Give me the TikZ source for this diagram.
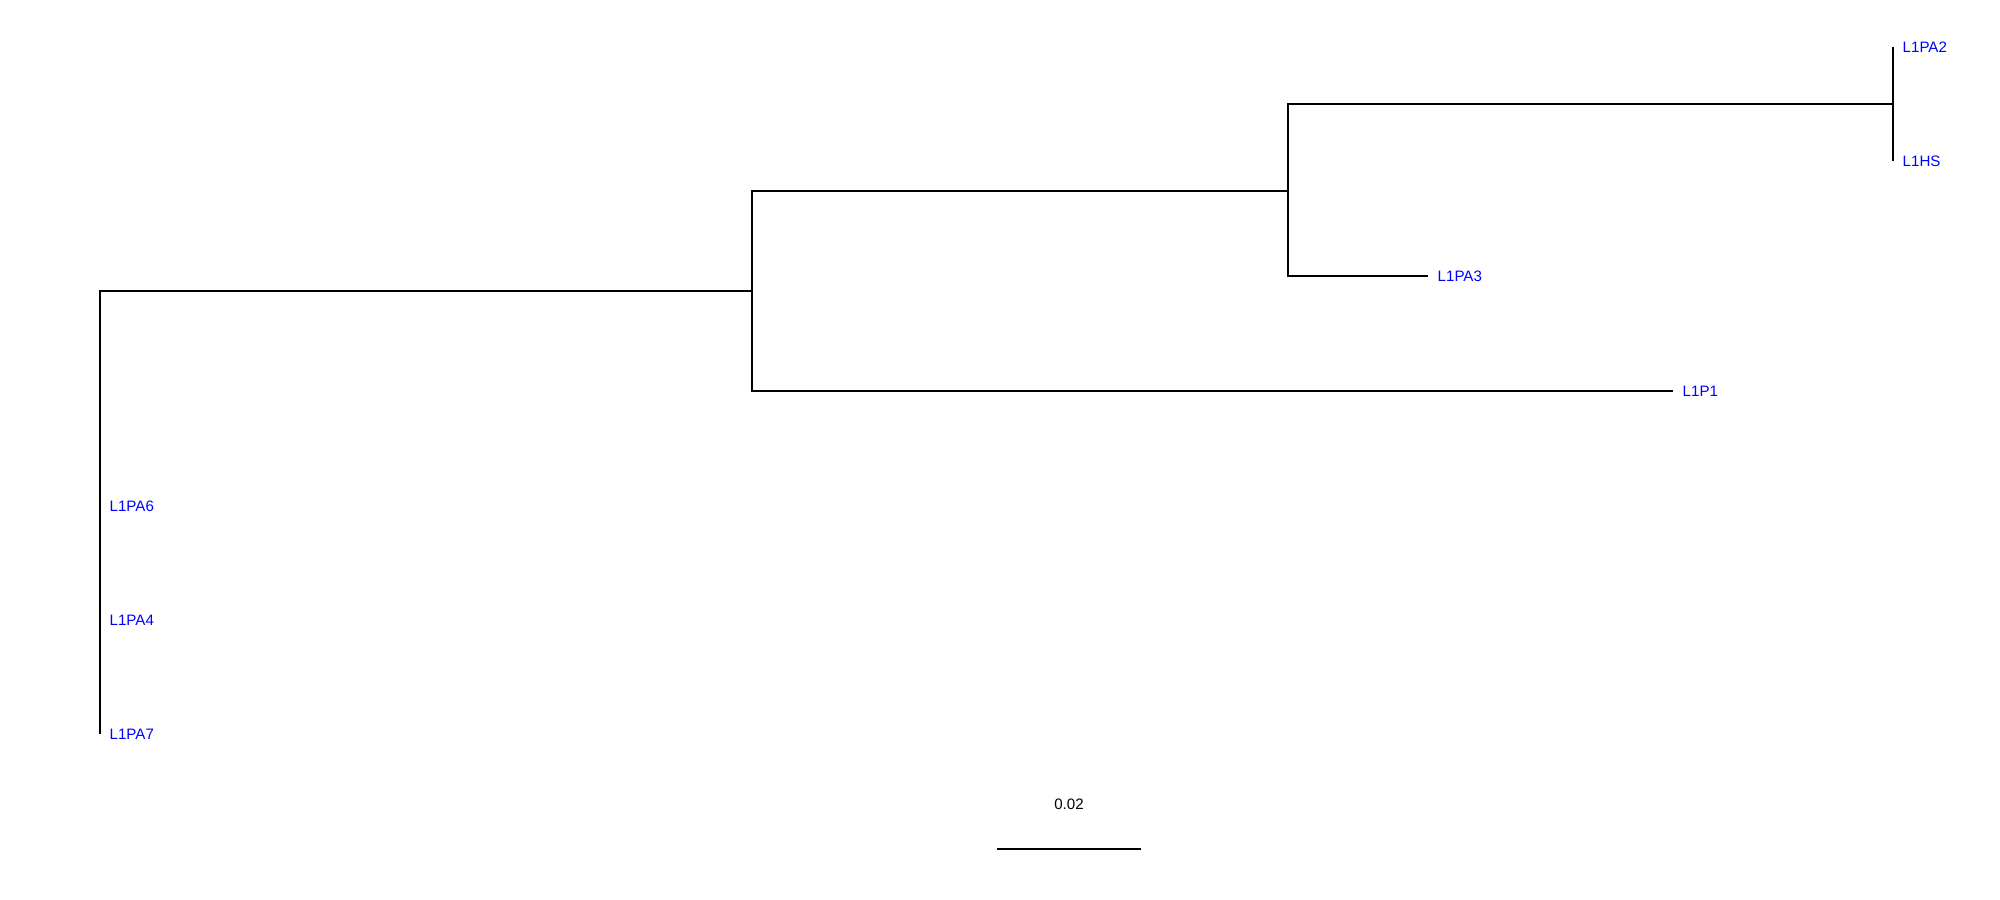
\documentclass[tikz,border=0pt]{standalone}
\usepackage{fontspec}
\setmainfont{Liberation Sans}
\begin{document}
\begin{tikzpicture}[x=0.01cm, y=-0.01cm, line width=0.38pt,
    tip/.style={anchor=west, inner sep=0pt, text=blue, font=\fontsize{4.3}{5}\selectfont},
    scalelabel/.style={inner sep=0pt, font=\fontsize{4.3}{5}\selectfont}]
    \useasboundingbox (0,0) rectangle (2000,900);
    % inner nodes
    \coordinate (n0) at (100,291);
    \coordinate (n1) at (752,291);
    \coordinate (n2) at (1288,191);
    \coordinate (n3) at (1893,104);
    % tips
    \coordinate (t2) at (1893,47);
    \coordinate (ths) at (1893,161);
    \coordinate (t3) at (1428,276);
    \coordinate (tp1) at (1673,391);
    \coordinate (t6) at (100,506);
    \coordinate (t4) at (100,620);
    \coordinate (t7) at (100,734);
    \draw (n1) -- (n0) -- (t7);
    \draw (t6) -- (t4);
    \draw (n2) -| (n1) |- (tp1);
    \draw (n3) -| (n2) |- (t3);
    \draw (t2) -- (ths);
    \foreach \t/\name in {t2/L1PA2, ths/L1HS, t3/L1PA3, tp1/L1P1, t6/L1PA6, t4/L1PA4, t7/L1PA7}
    { \node[tip] (l\t) at ([xshift=0.09cm]\t) {\name}; }
    % scale bar
    \coordinate (s0) at (997,849);
    \coordinate (s1) at (1141,849);
    \draw (s0) -- (s1);
    \node[scalelabel] (sl) at (1069,804) {0.02};
\end{tikzpicture}
\end{document}
